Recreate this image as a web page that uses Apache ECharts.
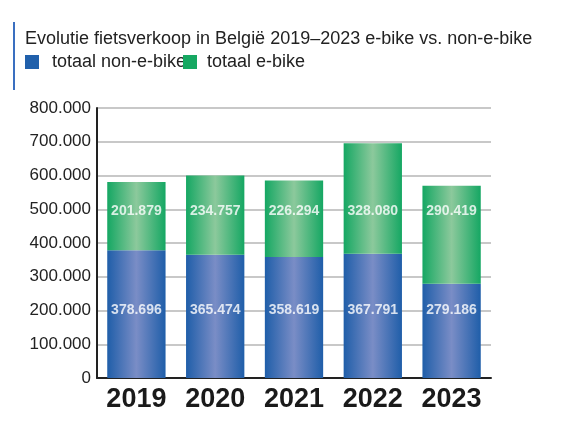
<!DOCTYPE html>
<html><head><meta charset="utf-8">
<script src="https://cdn.jsdelivr.net/npm/echarts@6/dist/echarts.min.js"></script>
<style>html,body{margin:0;padding:0;background:#fff}#c{width:581px;height:441px}</style>
</head><body><div id="c"></div>
<script>
const categories = ['2019','2020','2021','2022','2023'];
const nonEbike = [378696,365474,358619,367791,279186];
const ebike = [201879,234757,226294,328080,290419];
const yTicks = [0,100000,200000,300000,400000,500000,600000,700000,800000];
const title = 'Evolutie fietsverkoop in België 2019–2023 e-bike vs. non-e-bike';
const legendNames = ['totaal non-e-bike','totaal e-bike'];

const fmt = v => String(v).replace(/\B(?=(\d{3})+(?!\d))/g,'.');
const grad = (e,c) => new echarts.graphic.LinearGradient(0,0,1,0,[{offset:0,color:e},{offset:0.5,color:c},{offset:1,color:e}]);
const narrow = "'Liberation Sans Narrow','Liberation Sans',Arial,sans-serif";
const chart = echarts.init(document.getElementById('c'));
chart.setOption({
  animation:false,
  graphic:[
    {type:'rect',shape:{x:13,y:22,width:2,height:68},style:{fill:'#3a6fc0'}},
    {type:'text',left:25,top:30,style:{text:title,font:"18px "+narrow,fill:'#222'}},
    {type:'rect',shape:{x:25,y:55,width:14,height:14},style:{fill:'#2060ab'}},
    {type:'text',left:52,top:53,style:{text:legendNames[0],font:"18px "+narrow,fill:'#222'}},
    {type:'rect',shape:{x:183,y:55,width:14,height:14},style:{fill:'#16a862'}},
    {type:'text',left:207,top:53,style:{text:legendNames[1],font:"18px "+narrow,fill:'#222'}}
  ],
  grid:{left:97,right:90,top:108,bottom:63},
  xAxis:{type:'category',data:categories,
    axisLine:{lineStyle:{color:'#222',width:2}},
    axisTick:{inside:true,length:7,lineStyle:{color:'#222',width:2}},
    axisLabel:{color:'#1a1a1a',fontSize:27,fontWeight:'bold',fontFamily:'Liberation Sans',margin:8}},
  yAxis:{type:'value',min:0,max:800000,interval:100000,
    axisLine:{show:true,lineStyle:{color:'#222',width:2}},axisTick:{show:false},
    splitLine:{lineStyle:{color:'#c8c8c8',width:2}},
    axisLabel:{color:'#222',fontSize:17,fontFamily:narrow,margin:6,
      formatter:v=>yTicks.includes(v)?fmt(v):''}},
  series:[
    {name:legendNames[0],type:'bar',stack:'t',data:nonEbike,barCategoryGap:'26%',
      itemStyle:{color:grad('#1f5ea9','#7a8dc6')}},
    {name:legendNames[1],type:'bar',stack:'t',data:ebike,
      itemStyle:{color:grad('#15a763','#8cc99c')}},
    {type:'scatter',symbolSize:0,silent:true,data:nonEbike.map((v,i)=>({value:[categories[i],200000],raw:v})),
      label:{show:true,position:'inside',formatter:p=>fmt(p.data.raw),color:'#fff',fontWeight:'bold',fontSize:14,fontFamily:'Liberation Sans'}},
    {type:'scatter',symbolSize:0,silent:true,data:ebike.map((v,i)=>({value:[categories[i],495000],raw:v})),
      label:{show:true,position:'inside',formatter:p=>fmt(p.data.raw),color:'#fff',fontWeight:'bold',fontSize:14,fontFamily:'Liberation Sans'}}
  ]
});
</script></body></html>
